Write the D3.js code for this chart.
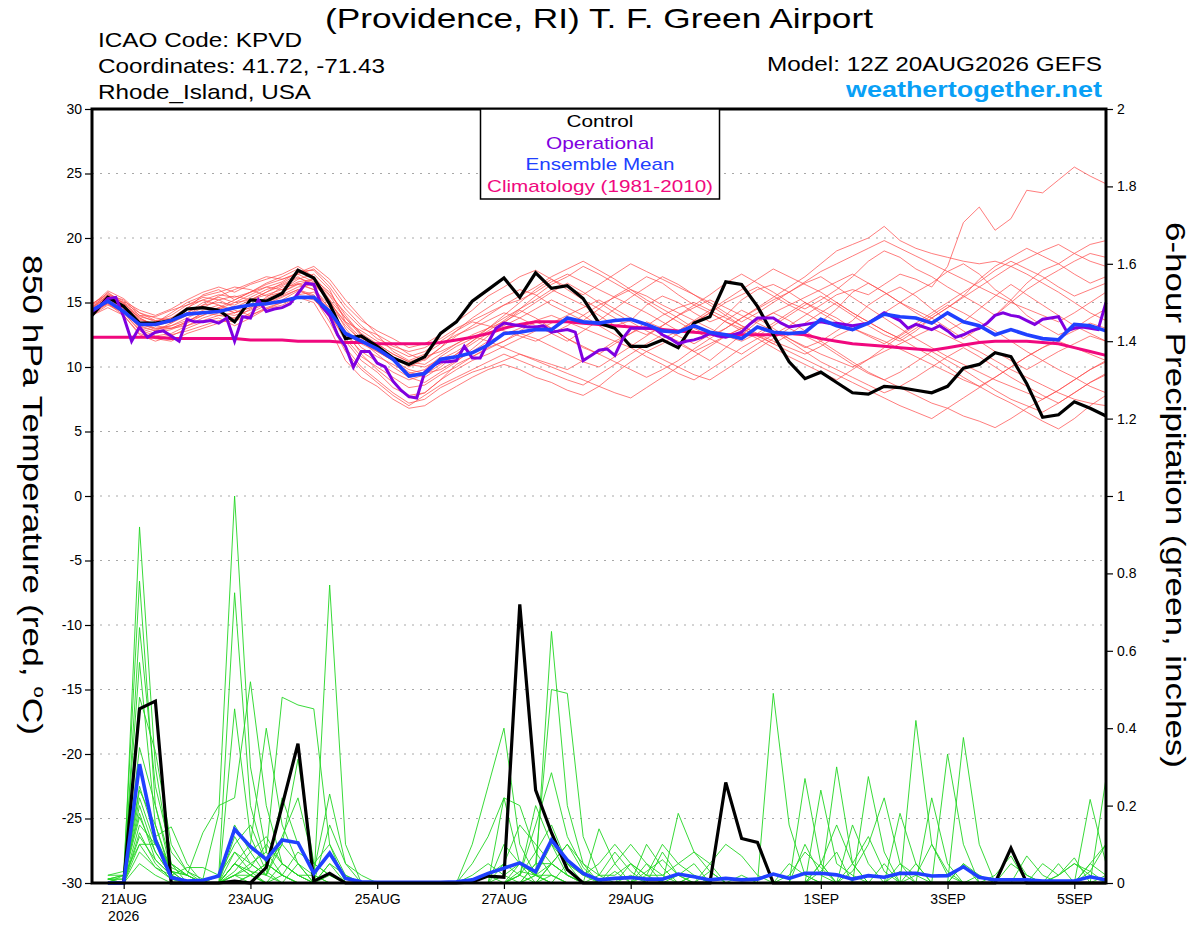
<!DOCTYPE html>
<html>
<head>
<meta charset="utf-8">
<script src="https://cdn.jsdelivr.net/npm/d3@7"></script>
<style>
  body { margin: 0; background: #fff; }
  svg { display: block; }
  text { font-family: "Liberation Sans", Arial, sans-serif; }
</style>
</head>
<body>
<div id="chart"></div>
<script>
// run start and step (GEFS 12Z 20AUG2026, 6-hourly; operational 3-hourly)
const startTime = "2026-08-20T12:00:00Z";
const yearLabel = "2026";
const tickDates = ["2026-08-21", "2026-08-23", "2026-08-25", "2026-08-27", "2026-08-29", "2026-09-01", "2026-09-03", "2026-09-05"];
const tickLabels = ["21AUG", "23AUG", "25AUG", "27AUG", "29AUG", "1SEP", "3SEP", "5SEP"];
const tempTicks = [-30, -25, -20, -15, -10, -5, 0, 5, 10, 15, 20, 25, 30];
const precipTicks = [0, 0.2, 0.4, 0.6, 0.8, 1, 1.2, 1.4, 1.6, 1.8, 2];
const precipTickLabels = ["0", "0.2", "0.4", "0.6", "0.8", "1", "1.2", "1.4", "1.6", "1.8", "2"];

// 850 hPa temperature, 6-hourly from 12Z 20AUG
const controlTemp = [14.0,15.4,14.7,13.4,13.4,13.6,14.5,14.6, 14.4,13.5,15.2,15.1,15.7,17.5,16.9,14.9,
  12.2,12.4,11.6,10.7,10.2,10.8,12.6,13.5, 15.1,16.0,16.9,15.4,17.3,16.1,16.3,15.3,
  13.4,13.0,11.6,11.6,12.1,11.5,13.4,13.9, 16.6,16.4,14.7,12.5,10.4,9.1,9.6,8.8,
  8.0,7.9,8.5,8.4,8.2,8.0,8.5,9.9, 10.2,11.1,10.8,8.7,6.1,6.3,7.3,6.8, 6.2];

const meanTemp = [14.4,15.1,14.3,13.3,13.3,13.6,14.1,14.2, 14.3,14.6,14.8,14.9,15.1,15.4,15.4,14.3,
  12.6,12.0,11.4,10.6,9.3,9.5,10.6,10.8, 11.1,11.7,12.6,12.7,12.9,12.9,13.8,13.5,
  13.4,13.6,13.7,13.3,12.8,12.7,13.2,12.7, 12.5,12.2,13.1,12.7,12.6,12.7,13.7,13.2,
  12.9,13.4,14.1,13.9,13.8,13.4,14.2,13.5, 13.2,12.5,12.9,12.5,12.2,12.1,13.3,13.2, 12.8];

const climoTemp = [12.3,12.3,12.3,12.3,12.3,12.2,12.2,12.2, 12.2,12.2,12.1,12.1,12.1,12.0,12.0,12.0,
  11.9,11.9,11.8,11.8,11.8,11.8,11.9,12.1, 12.3,12.6,13.0,13.3,13.5,13.5,13.5,13.4,
  13.3,13.2,13.1,13.0,12.9,12.8,12.7,12.6, 12.5,12.5,12.5,12.5,12.6,12.5,12.2,12.0,
  11.8,11.7,11.6,11.5,11.4,11.3,11.5,11.7, 11.9,12.0,12.0,12.0,11.9,11.8,11.5,11.2, 10.9];

// operational run, 3-hourly
const operationalTemp = [14.3,14.7,15.3,15.4,13.9,12.0,13.1,12.3, 12.7,12.8,12.4,12.0,13.7,13.5,13.5,13.6,
  13.4,13.8,12.0,13.9,13.8,15.2,14.3,14.5, 14.6,14.9,15.7,16.5,16.4,14.7,14.0,12.5,
  11.6,10.0,11.2,11.2,10.3,10.0,8.9,8.2, 7.7,7.6,9.6,10.1,10.4,10.4,10.5,11.6,
  10.7,10.7,11.9,13.0,13.4,13.3,13.2,13.1, 13.1,13.2,12.7,12.8,12.9,12.7,10.5,10.9,
  11.3,11.4,10.9,12.2,13.0,13.0,13.0,13.0, 12.5,12.2,11.8,12.0,12.1,12.3,12.6,12.4,
  12.3,12.5,12.7,13.3,13.8,13.8,13.8,13.4, 13.1,13.2,13.3,13.4,13.5,13.4,13.4,13.3,
  13.2,13.3,13.4,13.8,14.2,13.9,13.6,13.0, 13.3,13.1,12.9,13.2,12.8,12.3,12.5,12.8,
  13.0,13.4,14.0,14.2,14.0,13.9,13.6,13.3, 13.7,13.8,13.9,12.8,13.0,13.1,13.0,12.9, 15.0];

// ensemble members, 6-hourly
const memberTemps = [
  [14.6,15.8,14.9,13.8,13.2,13.5,14.2,15.0,15.4,15.0,15.6,16.2,16.0,16.8,17.2,16.0,13.5,12.2,11.8,11.0,10.4,10.2,11.0,11.8,12.5,13.0,13.8,14.5,15.2,16.0,15.4,14.8,14.0,13.2,13.6,14.8,15.5,15.0,14.2,13.5,14.0,15.2,16.0,16.4,15.8,15.0,14.2,13.5,12.8,13.5,14.2,15.0,15.8,16.5,17.4,18.0,17.2,16.0,15.2,14.0,13.2,12.5,13.0,13.8,14.5],
  [14.2,15.2,14.5,13.0,12.6,12.9,13.4,14.0,14.6,14.2,14.8,15.3,15.8,16.5,16.0,14.2,12.0,10.5,9.6,8.4,7.8,8.0,9.0,10.2,10.8,11.5,12.0,12.8,13.5,13.0,12.2,11.5,11.0,11.8,12.6,13.5,13.0,12.4,11.8,12.5,13.6,14.4,13.8,13.0,12.2,11.5,12.0,12.8,13.6,14.8,15.6,16.2,15.5,14.5,13.6,12.8,12.0,11.2,10.5,9.8,10.5,11.2,11.8,12.4,12.0],
  [14.8,15.5,15.0,14.2,13.8,13.6,14.5,15.6,16.0,15.2,15.8,16.5,17.0,17.6,17.0,15.6,14.2,13.0,12.5,11.8,11.0,10.5,11.5,12.8,13.8,14.6,15.4,16.0,15.6,14.8,14.2,13.6,14.5,15.5,16.2,17.0,16.5,15.6,14.8,14.2,13.5,13.0,12.4,13.2,14.0,14.8,15.5,14.8,14.0,13.2,12.5,12.0,12.8,13.8,14.6,15.5,16.8,17.8,18.5,19.2,18.6,18.0,17.2,16.5,17.0],
  [14.0,14.8,14.2,12.8,12.2,12.5,12.8,13.2,13.6,13.5,14.2,14.8,15.2,15.9,15.5,13.8,11.5,10.0,9.0,8.0,7.2,7.5,8.4,9.0,9.6,10.0,10.5,11.0,10.6,10.2,9.8,10.5,11.2,12.0,11.5,10.8,10.2,9.5,9.0,9.8,10.6,11.5,12.2,12.8,12.0,11.2,10.4,9.8,9.2,8.6,8.0,8.5,9.2,10.0,10.8,11.5,10.8,10.0,9.2,8.5,7.8,7.2,8.0,8.8,9.5],
  [14.5,15.6,15.2,14.0,13.5,14.0,14.8,15.4,15.2,14.6,15.2,15.8,16.5,17.2,17.6,16.5,14.8,13.6,12.8,12.2,11.5,11.8,12.5,13.5,14.4,15.5,16.2,17.0,17.5,16.8,16.0,15.2,14.5,13.8,13.0,12.5,13.2,14.0,14.8,15.6,16.5,17.2,16.5,15.8,15.0,14.5,15.2,16.0,17.0,18.2,19.0,18.5,17.6,17.0,16.2,15.5,14.8,14.0,15.0,16.0,16.8,17.5,18.2,18.8,18.5],
  [14.3,15.0,14.6,13.5,13.0,13.2,13.8,14.4,14.8,14.4,14.0,14.5,15.0,15.5,15.2,14.0,12.6,11.8,11.2,10.5,9.8,9.5,9.8,10.5,11.2,12.0,12.5,13.0,13.6,14.0,13.5,13.0,12.5,12.0,12.6,13.2,14.0,14.6,15.0,14.4,13.8,13.2,12.6,12.0,11.5,11.0,11.6,12.4,13.0,12.5,12.0,11.4,10.8,10.2,9.6,9.0,8.5,9.2,10.0,10.8,11.5,12.0,11.5,11.0,10.5],
  [14.7,15.4,14.8,13.6,13.4,14.2,15.0,15.5,15.8,16.2,16.0,15.5,15.8,16.4,16.8,15.8,14.0,12.5,11.5,10.8,10.0,10.6,11.5,12.4,13.2,14.0,14.8,15.5,16.2,17.0,17.6,18.2,17.5,16.8,16.0,15.2,14.5,13.8,13.0,12.4,13.0,13.8,14.6,15.4,16.2,17.0,18.0,19.0,19.5,20.0,20.9,19.8,19.2,18.8,18.5,18.2,18.0,18.2,17.8,17.2,16.5,15.8,15.0,14.2,13.6],
  [14.4,15.1,14.4,13.2,12.8,13.0,13.5,14.2,14.0,13.8,14.5,15.0,15.5,16.0,15.4,13.5,11.2,9.8,8.8,7.8,7.0,7.8,8.6,9.2,9.8,10.4,11.0,10.5,10.0,9.5,9.0,8.6,9.4,10.2,11.0,11.8,12.5,12.0,11.2,10.5,11.5,12.5,13.5,14.2,13.6,12.8,12.0,11.2,10.4,9.6,9.0,8.4,7.8,7.2,6.8,6.2,5.8,5.3,6.0,6.8,7.5,8.2,9.0,9.8,10.5],
  [14.9,15.7,15.1,14.4,14.0,14.5,15.2,15.8,16.2,15.8,16.4,16.8,17.2,17.8,17.0,15.2,13.0,11.5,10.8,10.2,9.5,9.8,10.8,11.6,12.2,13.0,13.5,14.2,15.0,15.8,16.5,15.8,15.0,14.2,13.5,12.8,12.2,12.8,13.5,14.2,15.0,15.6,16.2,15.5,14.8,14.2,13.5,14.5,15.8,16.5,15.8,15.0,14.4,13.8,13.0,12.2,13.0,14.0,15.2,16.5,17.5,18.0,18.8,19.5,19.8],
  [14.1,14.9,14.0,12.5,12.0,12.4,13.0,13.5,13.8,13.2,13.8,14.5,14.8,15.4,15.0,13.0,10.5,9.2,8.5,7.5,6.8,7.0,7.8,8.5,9.2,9.8,10.2,9.8,9.2,8.8,8.2,7.8,8.5,9.5,10.4,11.2,10.6,10.0,9.4,9.0,9.8,10.6,11.4,12.2,13.0,12.4,11.8,11.0,10.2,9.5,9.0,9.6,10.4,11.2,10.5,9.8,9.0,8.2,7.5,7.0,6.5,7.2,8.0,8.8,9.4],
  [14.6,15.3,14.7,13.9,13.6,13.8,14.0,14.6,15.2,15.5,15.2,15.8,16.3,16.9,16.5,15.0,13.5,12.8,12.0,11.4,10.8,11.2,12.0,12.8,13.5,13.2,12.8,12.4,12.0,12.6,13.2,14.0,14.8,15.4,16.0,15.5,14.8,14.2,13.6,13.0,12.4,12.0,12.6,13.4,14.2,15.0,14.4,13.8,13.0,12.4,11.8,12.5,13.4,14.2,15.0,15.8,16.6,17.5,18.2,17.6,17.0,16.2,15.5,16.0,16.5],
  [14.2,15.0,14.3,13.1,12.8,13.4,14.2,14.8,15.0,14.8,15.4,16.0,16.4,17.0,16.2,14.4,12.5,11.2,10.4,9.6,9.0,9.4,10.2,11.0,11.8,12.6,13.2,13.8,14.5,15.2,14.6,14.0,13.2,12.5,11.8,11.2,11.8,12.6,13.4,14.2,13.5,12.8,12.2,11.5,10.8,10.2,9.6,9.0,9.8,10.6,11.5,12.4,13.2,14.0,14.8,14.2,13.5,12.8,12.0,11.2,10.5,9.8,9.2,8.5,8.0],
  [14.5,15.2,14.6,13.4,12.9,13.2,13.6,14.0,14.5,15.0,15.2,15.6,16.0,16.6,16.8,15.5,13.8,12.4,11.6,10.8,10.2,10.0,10.6,11.2,12.0,12.8,13.6,14.5,15.5,16.4,17.0,17.8,17.2,16.5,15.8,15.0,14.2,13.5,12.8,12.2,11.6,11.0,11.8,12.5,13.2,14.0,14.8,15.6,16.0,15.6,16.4,17.2,16.8,16.2,17.8,21.2,22.4,20.6,21.5,23.7,23.5,24.5,25.5,24.8,24.2],
  [14.8,15.9,15.3,14.2,13.6,13.4,14.0,14.8,15.5,16.0,16.5,17.0,16.8,17.3,17.8,16.8,15.2,13.8,12.5,11.2,10.5,11.0,11.8,12.5,13.0,13.6,14.2,13.8,13.2,12.6,12.0,12.8,13.6,14.5,15.4,16.2,17.0,16.4,15.6,14.8,14.0,13.2,12.5,11.8,12.5,13.4,14.2,15.0,14.2,13.5,12.8,12.2,11.5,10.8,10.0,9.2,8.5,7.8,7.2,6.5,5.8,5.2,6.0,7.0,7.8],
  [14.0,14.6,14.0,12.6,12.2,12.0,12.6,13.0,13.4,13.8,14.0,14.6,15.0,15.6,15.8,14.6,12.8,11.0,9.8,8.8,7.6,8.0,9.0,9.8,10.5,11.0,11.6,12.2,12.8,13.4,14.0,14.6,15.2,14.5,13.8,13.2,12.5,11.8,11.2,11.8,12.4,13.0,13.6,14.2,14.8,15.4,16.0,16.6,17.2,16.5,15.8,15.0,14.2,13.5,12.8,13.5,14.5,15.5,16.4,15.6,14.8,14.0,13.2,12.6,12.0],
  [14.4,15.3,14.8,13.7,13.3,13.8,14.6,15.2,14.8,14.2,14.6,15.4,16.2,16.4,16.0,14.8,13.2,12.0,11.0,10.0,9.2,8.8,9.6,10.4,11.4,12.4,13.4,14.4,13.8,13.0,12.2,11.6,11.0,10.4,9.8,9.2,9.8,10.5,11.4,12.2,13.0,13.8,14.5,15.2,15.8,16.5,17.0,16.2,15.4,14.6,13.8,13.0,12.2,11.5,10.8,10.2,9.6,9.0,8.5,8.0,7.5,8.2,9.0,9.8,10.4],
  [14.6,15.5,14.9,14.0,13.9,14.4,14.8,15.2,15.6,15.4,15.8,16.2,16.6,17.4,17.5,16.2,14.5,13.2,12.2,11.6,11.2,11.5,12.2,13.0,13.6,14.2,14.8,15.2,15.8,16.6,17.2,16.6,16.0,15.4,14.8,14.2,13.5,12.8,13.6,14.4,15.2,16.0,16.8,17.6,17.0,16.4,15.8,15.0,14.2,13.5,12.8,12.2,13.0,13.8,14.6,15.4,16.2,17.0,17.8,18.4,19.0,19.5,18.8,18.2,17.8],
  [14.3,14.9,14.2,12.9,12.4,12.6,13.2,13.8,14.2,14.0,14.4,14.9,15.4,16.0,15.6,14.0,12.2,10.8,10.0,9.2,8.4,8.6,9.4,10.0,10.8,11.4,12.0,12.6,12.2,11.6,11.0,10.4,10.0,10.8,11.6,12.4,13.2,14.0,14.6,15.2,14.6,14.0,13.4,12.8,12.2,11.6,11.0,10.5,10.0,10.6,11.2,11.8,12.4,13.0,12.4,11.8,11.2,10.5,9.8,9.2,8.6,8.0,7.5,7.2,7.0],
  [14.9,15.6,15.0,13.8,13.2,13.0,13.5,14.2,14.6,15.2,15.8,16.4,16.8,17.2,16.6,15.0,13.4,12.0,11.2,10.5,9.6,9.2,10.0,11.0,12.0,13.0,14.0,15.0,16.0,16.8,16.2,15.6,16.4,17.2,18.0,17.4,16.8,16.2,15.6,15.0,14.2,13.5,14.2,15.0,15.8,16.6,17.4,18.0,18.6,19.2,19.8,19.2,18.6,18.0,17.4,16.8,16.2,15.6,15.0,14.5,14.0,13.5,14.2,15.0,15.8],
  [14.2,15.0,14.4,13.3,13.0,13.0,13.2,13.6,14.0,14.2,14.6,15.2,15.6,16.2,16.4,15.2,13.8,12.6,11.8,11.0,10.4,10.8,11.2,11.8,12.4,12.0,11.5,11.0,10.5,10.0,9.5,9.0,8.5,8.0,7.6,8.4,9.2,10.0,10.8,11.6,12.4,13.0,12.4,11.8,11.2,10.6,10.0,9.4,8.8,8.2,7.6,7.0,6.5,6.0,6.8,7.6,8.4,9.2,10.0,10.8,11.5,12.2,12.8,13.4,13.0]
];

// 6-hour precipitation (inches), valid 18Z 20AUG onwards
const controlPrecip = [0,0,0.45,0.47,0,0,0,0, 0.005,0,0.04,0.2,0.36,0.005,0.025,0,
  0,0,0,0,0,0,0,0.003, 0.018,0.015,0.72,0.24,0.13,0.035,0,0,
  0,0,0,0,0,0,0,0.26, 0.115,0.105,0,0,0,0,0,0,
  0,0,0,0,0,0,0,0, 0,0.09,0,0,0,0,0,0];

const meanPrecip = [0,0,0.307,0.111,0.014,0.005,0.007,0.018, 0.139,0.094,0.061,0.111,0.104,0.025,0.077,0.012,
  0.003,0.002,0.002,0.002,0.002,0.002,0.003,0.008, 0.025,0.038,0.052,0.029,0.111,0.059,0.025,0.008,
  0.012,0.014,0.01,0.01,0.023,0.016,0.008,0.012, 0.008,0.01,0.023,0.012,0.025,0.025,0.021,0.01,
  0.019,0.015,0.025,0.025,0.018,0.019,0.042,0.015, 0.008,0.008,0.008,0.005,0.005,0.005,0.016,0.008];

const memberPrecips = [
  [0.01,0,0.92,0.30,0.05,0.02,0,0, 0,0.02,0.05,0.1,0.05,0,0,0, 0,0,0,0,0,0,0,0, 0,0.02,0.05,0.02,0.65,0.2,0.05,0, 0,0,0.03,0.06,0.02,0,0,0, 0,0,0,0.02,0.08,0.04,0,0, 0,0,0,0.02,0.1,0.03,0,0, 0,0,0,0,0.02,0.05,0.02,0],
  [0.02,0.03,0.78,0.2,0.03,0,0,0.02, 0.75,0.2,0.05,0.02,0,0,0,0, 0,0,0,0,0,0,0,0, 0,0,0,0.05,0.5,0.49,0.12,0.02, 0,0.05,0.02,0,0,0,0.03,0, 0,0,0,0,0,0,0,0.05, 0.12,0.03,0,0,0,0,0.05,0.02, 0,0,0,0,0,0,0,0],
  [0,0,0.66,0.25,0.08,0.03,0.01,0.18, 1.0,0.3,0.08,0.02,0,0,0,0, 0,0,0,0,0,0,0,0, 0,0,0.02,0.15,0.285,0.12,0.04,0, 0,0,0,0,0,0.02,0,0, 0,0,0.49,0.15,0.02,0,0,0, 0,0,0,0,0,0,0,0, 0,0,0,0,0,0,0.03,0.1],
  [0,0.02,0.57,0.15,0.02,0,0,0, 0.05,0.1,0.4,0.15,0.05,0,0.77,0.1, 0,0,0,0,0,0,0,0.02, 0.05,0.02,0,0,0.05,0.02,0,0, 0,0,0,0,0,0,0,0, 0,0,0,0,0.27,0.05,0,0, 0,0,0,0.42,0.1,0.02,0,0, 0,0,0,0,0,0,0,0],
  [0.01,0.01,0.48,0.34,0.1,0.03,0,0, 0.02,0.05,0.08,0.48,0.46,0.45,0.1,0, 0,0,0,0,0,0,0,0.1, 0.25,0.4,0.1,0.02,0,0,0,0, 0,0,0,0,0,0,0,0, 0,0,0,0,0,0,0,0, 0,0,0.05,0.02,0,0,0.376,0.1, 0,0,0,0,0.02,0.05,0.03,0],
  [0,0,0.25,0.12,0.145,0.05,0,0, 0.45,0.12,0.03,0,0,0,0,0, 0,0,0,0,0,0,0,0, 0,0.22,0.05,0,0,0,0,0.14, 0.05,0,0,0,0.18,0.08,0.03,0, 0,0,0,0,0,0,0.3,0.05, 0,0,0,0,0,0,0,0, 0,0.05,0.02,0,0,0,0.216,0.05],
  [0,0,0.22,0.1,0.04,0.02,0.13,0.2, 0.22,0.52,0.2,0.05,0.02,0,0,0, 0,0,0,0,0,0,0,0, 0.02,0.05,0.02,0.2,0.1,0.02,0,0, 0.05,0.1,0.05,0,0.02,0.05,0,0, 0,0,0,0,0,0.24,0.05,0.02, 0,0,0.18,0.05,0,0,0,0, 0,0,0,0,0,0,0,0],
  [0,0,0.2,0.08,0.02,0,0,0, 0.12,0.05,0.02,0.22,0.1,0.03,0.23,0.05, 0,0,0,0,0,0,0,0, 0,0,0,0,0,0.05,0.02,0, 0,0,0.1,0.04,0,0,0,0, 0,0,0,0,0,0,0,0.15, 0.05,0,0,0,0,0.333,0.1,0, 0,0.085,0.02,0,0,0,0,0],
  [0.01,0.02,0.18,0.06,0.02,0.04,0.04,0.02, 0.1,0.15,0.05,0.02,0,0,0,0, 0,0,0,0,0,0,0,0, 0,0,0.03,0.02,0.05,0.1,0.05,0.02, 0.08,0.03,0,0,0,0,0,0, 0,0,0,0,0,0,0,0, 0.275,0.08,0,0,0,0,0,0, 0,0,0,0.05,0.02,0.065,0,0.02],
  [0,0,0.15,0.1,0.03,0,0,0.02, 0.08,0.05,0.02,0.1,0.32,0.05,0.02,0, 0,0,0,0,0,0,0,0, 0,0,0.02,0,0.02,0,0,0, 0,0,0,0,0,0,0.05,0.1, 0.07,0.02,0,0,0,0,0,0, 0,0,0,0,0.22,0.05,0,0, 0,0,0,0,0,0,0,0],
  [0,0,0.13,0.05,0.01,0,0,0, 0.05,0.02,0,0.05,0.02,0,0.15,0.05, 0.02,0,0,0,0,0,0,0, 0,0.05,0.15,0.1,0.05,0.02,0,0, 0,0,0,0,0,0,0,0, 0,0,0,0,0,0.05,0,0, 0,0.05,0,0,0,0,0,0, 0,0,0.07,0.02,0,0,0,0],
  [0.01,0.02,0.1,0.04,0.01,0,0,0, 0.02,0.04,0.1,0.05,0.02,0,0.05,0.02, 0,0,0,0,0,0,0,0, 0,0,0,0.05,0.05,0.02,0,0.02, 0.02,0.05,0.02,0.1,0.05,0.02,0,0, 0,0,0,0,0.1,0.02,0,0, 0,0,0,0.05,0,0,0,0, 0,0,0,0,0,0,0,0.27],
  [0,0,0.08,0.04,0.02,0,0,0, 0,0.02,0.05,0.02,0,0,0,0, 0,0,0,0,0,0,0,0, 0,0,0,0.02,0,0,0,0, 0,0,0.02,0.02,0,0,0,0, 0.02,0,0,0,0,0,0,0, 0,0,0,0,0,0,0,0, 0,0,0,0,0,0,0,0],
  [0,0,0.05,0.02,0,0,0,0, 0.03,0.08,0.12,0.05,0.02,0.02,0,0, 0,0,0,0,0,0,0,0, 0,0.1,0.05,0.02,0.02,0,0,0, 0.03,0,0,0.08,0.02,0,0,0, 0,0,0,0,0,0.03,0.08,0, 0,0,0.03,0,0,0,0.05,0, 0,0,0,0,0.05,0,0,0],
  [0.02,0.02,0.3,0.12,0.03,0.02,0,0, 0.02,0.02,0,0,0,0,0.05,0, 0,0,0,0,0,0,0,0.05, 0.12,0.22,0.2,0.08,0.02,0,0,0, 0,0,0,0,0,0.02,0,0, 0,0,0,0,0,0,0,0.03, 0.1,0.22,0.05,0,0,0,0,0, 0,0,0,0,0,0,0,0],
  [0,0,0.35,0.2,0.05,0,0,0, 0.15,0.08,0.02,0,0,0,0,0, 0,0,0,0,0,0,0,0, 0,0,0,0.02,0.1,0.05,0.02,0.05, 0.1,0.05,0,0,0,0,0,0, 0,0,0,0,0,0.05,0.15,0.05, 0,0,0,0,0,0,0,0.02, 0,0,0,0,0,0,0,0],
  [0.01,0,0.24,0.15,0.03,0.02,0,0, 0.05,0.03,0.02,0.12,0.22,0.05,0.02,0, 0,0,0,0,0,0,0,0, 0,0,0.02,0.08,0.15,0.05,0,0, 0,0,0.05,0.02,0.05,0.08,0.05,0, 0,0,0,0.05,0.02,0,0,0, 0,0,0,0,0,0,0,0, 0.02,0.07,0,0,0,0,0.05,0.02],
  [0,0,0.1,0.1,0.05,0.02,0,0, 0.02,0,0,0.02,0.08,0.05,0.1,0.02, 0,0,0,0,0,0,0,0, 0,0,0,0,0,0,0,0, 0,0,0,0,0,0,0,0, 0,0,0,0,0,0,0,0, 0,0,0,0,0,0,0,0, 0,0,0,0,0,0,0,0],
  [0,0,0.12,0.06,0.02,0,0,0, 0.05,0.02,0,0,0.05,0.02,0,0, 0,0,0,0,0,0,0,0, 0,0,0.05,0.02,0,0,0,0, 0,0.02,0,0,0,0,0,0, 0,0,0,0,0,0,0,0, 0,0,0,0,0,0,0,0, 0,0,0,0,0,0,0.05,0.1],
  [0.01,0.01,0.17,0.08,0.02,0,0,0, 0.08,0.03,0,0,0,0,0.02,0, 0,0,0,0,0,0,0,0, 0.02,0,0,0,0.05,0.1,0.03,0, 0,0,0,0,0,0,0,0, 0,0,0,0,0,0,0,0, 0,0,0,0,0,0,0,0, 0,0,0,0,0,0,0,0]
];

var width = 1200, height = 927;
var plot = {left: 92, right: 1106, top: 109, bottom: 883};

var svg = d3.select("#chart")
  .append("svg")
    .attr("width", width)
    .attr("height", height);

var t0 = new Date(startTime);
var timeAt = function(i, hrs) { return new Date(t0.getTime() + i * hrs * 3600000); };

var x = d3.scaleUtc()
  .domain([t0, timeAt(64, 6)])
  .range([plot.left, plot.right]);
var yT = d3.scaleLinear().domain([-30, 30]).range([plot.bottom, plot.top]);
var yP = d3.scaleLinear().domain([0, 2]).range([plot.bottom, plot.top]);

// dotted grid on the temperature ticks
svg.append("g")
  .selectAll("line")
  .data(tempTicks.filter(function(d) { return d > -30 && d < 30; }))
  .enter()
  .append("line")
    .attr("x1", plot.left).attr("x2", plot.right)
    .attr("y1", function(d) { return yT(d); })
    .attr("y2", function(d) { return yT(d); })
    .attr("stroke", "#a8a8a8")
    .attr("stroke-width", 1)
    .attr("stroke-dasharray", "2,6");

var tempLine = function(hrs) {
  return d3.line()
    .x(function(d, i) { return x(timeAt(i, hrs)); })
    .y(function(d) { return yT(d); });
};
var precipLine = d3.line()
  .x(function(d, i) { return x(timeAt(i + 1, 6)); })
  .y(function(d) { return yP(d); });

// members
svg.append("g")
  .selectAll("path")
  .data(memberTemps)
  .enter()
  .append("path")
    .attr("d", tempLine(6))
    .attr("fill", "none")
    .attr("stroke", "#ff4a4a")
    .attr("stroke-opacity", 0.8)
    .attr("stroke-width", 0.9);

svg.append("g")
  .selectAll("path")
  .data(memberPrecips)
  .enter()
  .append("path")
    .attr("d", precipLine)
    .attr("fill", "none")
    .attr("stroke", "#22d622")
    .attr("stroke-width", 0.9);

var addLine = function(data, gen, color, w) {
  svg.append("path")
    .datum(data)
    .attr("d", gen)
    .attr("fill", "none")
    .attr("stroke", color)
    .attr("stroke-width", w)
    .attr("stroke-linejoin", "miter");
};

addLine(climoTemp, tempLine(6), "#f0087e", 3);
addLine(controlTemp, tempLine(6), "#000000", 3.2);
addLine(operationalTemp, tempLine(3), "#8000e0", 3);
addLine(meanTemp, tempLine(6), "#2040ff", 3.6);
addLine(controlPrecip, precipLine, "#000000", 3.2);
addLine(meanPrecip, precipLine, "#2040ff", 3.6);

// axes
var fontFam = '"Liberation Sans", Arial, sans-serif';

var axL = svg.append("g")
  .attr("transform", "translate(" + plot.left + ",0)")
  .call(d3.axisLeft(yT).tickValues(tempTicks).tickSize(7).tickPadding(3)
    .tickFormat(function(d) { return String(d); }));
var axR = svg.append("g")
  .attr("transform", "translate(" + plot.right + ",0)")
  .call(d3.axisRight(yP).tickValues(precipTicks).tickSize(7).tickPadding(4)
    .tickFormat(function(d, i) { return precipTickLabels[i]; }));
var axB = svg.append("g")
  .attr("transform", "translate(0," + plot.bottom + ")")
  .call(d3.axisBottom(x)
    .tickValues(tickDates.map(function(s) { return new Date(s + "T00:00:00Z"); }))
    .tickSize(6).tickPadding(5)
    .tickFormat(function(d, i) { return tickLabels[i]; }));

[axL, axR, axB].forEach(function(a) {
  a.select(".domain").remove();
  a.attr("font-family", fontFam).attr("font-size", 14);
  a.selectAll("line").attr("stroke", "#000").attr("stroke-width", 1.2);
  a.selectAll("text").attr("fill", "#000");
});

svg.append("text")
  .attr("x", x(new Date(tickDates[0] + "T00:00:00Z")))
  .attr("y", 921)
  .attr("text-anchor", "middle")
  .attr("font-size", 14)
  .text(yearLabel);

// frame
svg.append("rect")
  .attr("x", plot.left).attr("y", plot.top)
  .attr("width", plot.right - plot.left).attr("height", plot.bottom - plot.top)
  .attr("fill", "none").attr("stroke", "#000").attr("stroke-width", 3);

// legend
svg.append("rect")
  .attr("x", 480.5).attr("y", plot.top)
  .attr("width", 239).attr("height", 90)
  .attr("fill", "#fff").attr("stroke", "#000").attr("stroke-width", 1.5);

var legendItems = [
  {label: "Control", color: "#000000", w: 67},
  {label: "Operational", color: "#8000e0", w: 108},
  {label: "Ensemble Mean", color: "#2040ff", w: 149},
  {label: "Climatology (1981-2010)", color: "#f0087e", w: 226}
];
svg.append("g")
  .selectAll("text")
  .data(legendItems)
  .enter()
  .append("text")
    .attr("x", 600)
    .attr("y", function(d, i) { return 127 + i * 21.6; })
    .attr("text-anchor", "middle")
    .attr("font-size", 17)
    .attr("fill", function(d) { return d.color; })
    .attr("textLength", function(d) { return d.w; })
    .attr("lengthAdjust", "spacingAndGlyphs")
    .text(function(d) { return d.label; });

// header texts
var header = function(txt, xx, yy, size, len, anchor, color, weight) {
  svg.append("text")
    .attr("x", xx).attr("y", yy)
    .attr("font-size", size)
    .attr("text-anchor", anchor)
    .attr("fill", color || "#000")
    .attr("font-weight", weight || "normal")
    .attr("textLength", len)
    .attr("lengthAdjust", "spacingAndGlyphs")
    .text(txt);
};
header("(Providence, RI) T. F. Green Airport", 599, 28, 28, 548, "middle");
header("ICAO Code: KPVD", 98, 47, 21, 204, "start");
header("Coordinates: 41.72, -71.43", 98, 73, 21, 287, "start");
header("Rhode_Island, USA", 98, 99, 21, 213, "start");
header("Model: 12Z 20AUG2026 GEFS", 1102, 71, 21, 335, "end");
header("weathertogether.net", 1102, 97, 22, 256, "end", "#09a0f6", "bold");

// axis titles, rotated clockwise
var leftTitle = svg.append("text")
  .attr("transform", "translate(23,495) rotate(90)")
  .attr("text-anchor", "middle")
  .attr("font-size", 28)
  .attr("textLength", 480)
  .attr("lengthAdjust", "spacingAndGlyphs");
leftTitle.append("tspan").text("850 hPa Temperature (red, ");
leftTitle.append("tspan").attr("font-size", 16).attr("dy", -11).text("o");
leftTitle.append("tspan").attr("dy", 11).text("C)");

svg.append("text")
  .attr("transform", "translate(1166,495) rotate(90)")
  .attr("text-anchor", "middle")
  .attr("font-size", 28)
  .attr("textLength", 546)
  .attr("lengthAdjust", "spacingAndGlyphs")
  .text("6-hour Precipitation (green, inches)");
</script>
</body>
</html>
